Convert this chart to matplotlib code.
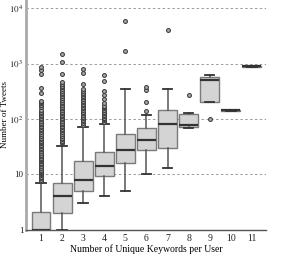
import matplotlib
matplotlib.use('Agg')
import matplotlib.pyplot as plt
from matplotlib.ticker import FixedLocator, FixedFormatter, NullLocator

plt.rcParams['font.family'] = 'Liberation Serif'
plt.rcParams['mathtext.fontset'] = 'stix'

# number of unique keywords per user
groups = [1, 2, 3, 4, 5, 6, 7, 8, 9, 10, 11]

# box statistics
q1 = [1, 2, 5, 9.3, 16, 27, 30, 72, 200, 140, 880]
med = [1, 4, 8, 14, 27, 42, 80, 76, 500, 143, 900]
q3 = [2.05, 7, 17, 25, 53, 68, 143, 124, 570, 146, 920]
whislo = [1, 1, 3, 4, 5, 10, 13, 68, 200, 140, 880]
whishi = [7, 33, 71, 80, 350, 116, 350, 130, 630, 146, 920]

fliers = [
    [7.5, 8, 8.5, 9, 9.5, 10, 10.5, 11, 11.5, 12, 13, 14, 15, 16, 17, 18, 19, 20,
     21, 22, 24, 26, 28, 30, 32, 34, 36, 38, 40, 43, 46, 50, 54, 58, 62, 66, 70,
     75, 80, 86, 92, 100, 106, 113, 120, 128, 136, 145, 165, 175, 190, 205, 213,
     298, 357, 647, 766, 857],
    [36, 38, 40, 43, 46, 50, 54, 58, 62, 66, 70, 75, 80, 86, 92, 100, 106, 113,
     120, 128, 136, 145, 155, 165, 175, 190, 205, 220, 240, 260, 280, 300, 320,
     345, 370, 400, 430, 460, 650, 1070, 1490],
    [78, 84, 90, 96, 103, 110, 118, 126, 135, 145, 155, 165, 176, 188, 200, 214,
     228, 244, 260, 278, 300, 320, 343, 420, 670, 800],
    [88, 94, 100, 106, 113, 120, 128, 136, 145, 155, 163, 171, 190, 226, 270,
     324, 485, 620],
    [1700, 6000],
    [140, 200, 330, 380],
    [4100],
    [275],
    [100],
    [],
    [],
]

stats = []
for i in range(len(groups)):
    stats.append({'q1': q1[i], 'med': med[i], 'q3': q3[i],
                  'whislo': whislo[i], 'whishi': whishi[i],
                  'fliers': fliers[i], 'label': str(groups[i])})

fig = plt.figure(figsize=(2.83, 2.56), dpi=100)
ax = fig.add_axes([0.092, 0.1035, 0.848, 0.8965])

edge = '#7a7a7a'
ax.bxp(stats, positions=groups, widths=0.9, patch_artist=True,
       capwidths=0.45,
       boxprops=dict(facecolor='#d4d4d4', edgecolor=edge, linewidth=1.0),
       medianprops=dict(color='#333333', linewidth=1.6),
       whiskerprops=dict(color='#555555', linewidth=1.1),
       capprops=dict(color='#333333', linewidth=1.3),
       flierprops=dict(marker='o', markersize=2.8, markerfacecolor='#a8a8a8',
                       markeredgecolor='#3c3c3c', markeredgewidth=0.75))

ax.set_yscale('log')
ax.set_ylim(1, 10 ** 4.15)
ax.set_xlim(0.29, 11.67)

ax.yaxis.set_major_locator(FixedLocator([1, 10, 100, 1000, 10000]))
ax.yaxis.set_major_formatter(FixedFormatter(['1', '10', r'$10^2$', r'$10^3$', r'$10^4$']))
ax.yaxis.set_minor_locator(NullLocator())
ax.set_xticks(groups)
ax.set_xticklabels([str(g) for g in groups])
ax.tick_params(length=0, labelsize=7, colors='#222222')
ax.tick_params(axis='x', pad=3)
ax.tick_params(axis='y', pad=2, labelsize=6.5)

ax.grid(axis='y', which='major', linestyle=(0, (2.5, 2.5)), color='#9a9a9a', linewidth=0.7)
ax.set_axisbelow(True)

for s in ['top', 'right']:
    ax.spines[s].set_visible(False)
ax.spines['left'].set_color('#aaaaaa')
ax.spines['left'].set_linewidth(2)
ax.spines['bottom'].set_color('#555555')
ax.spines['bottom'].set_linewidth(1)

ax.set_xlabel('Number of Unique Keywords per User', fontsize=7, labelpad=1)
ax.set_ylabel('Number of Tweets', fontsize=6.5)
ax.yaxis.set_label_coords(-0.07, 0.5)

fig.savefig('out.png', dpi=100)
